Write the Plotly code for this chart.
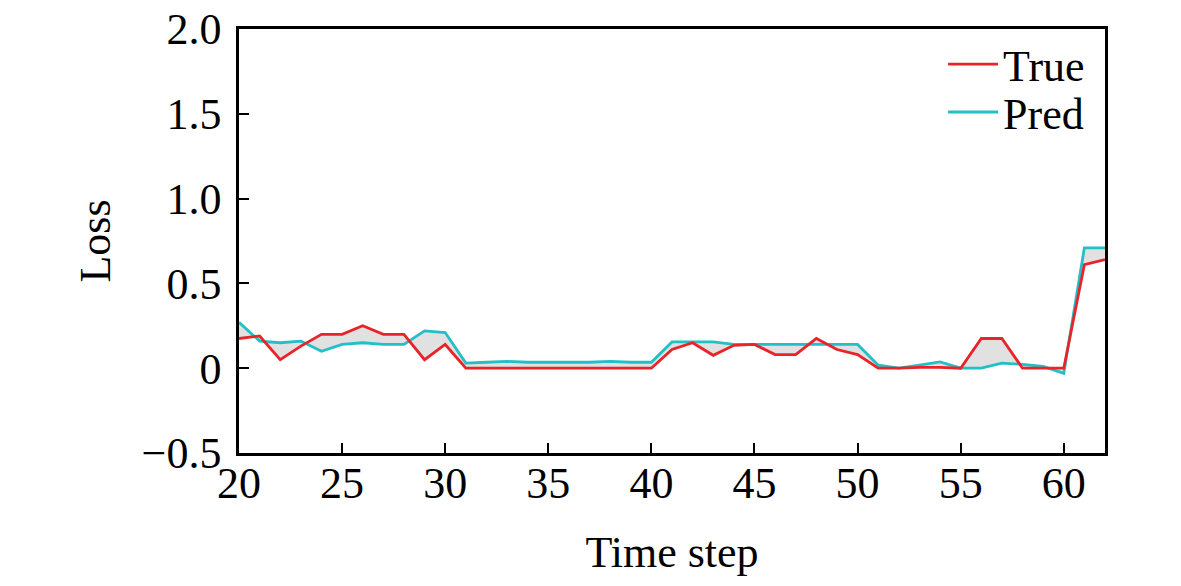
import plotly.graph_objects as go

time_steps = list(range(20, 63))
true_loss = [0.175, 0.19, 0.05, 0.13, 0.20, 0.20, 0.25, 0.20, 0.20, 0.05,
             0.14, 0.0, 0.0, 0.0, 0.0, 0.0, 0.0, 0.0, 0.0, 0.0,
             0.0, 0.11, 0.15, 0.076, 0.135, 0.14, 0.08, 0.08, 0.175, 0.11,
             0.08, 0.0, 0.0, 0.005, 0.005, 0.0, 0.175, 0.175, 0.0, 0.0,
             0.0, 0.61, 0.64]
pred_loss = [0.27, 0.16, 0.15, 0.16, 0.10, 0.14, 0.15, 0.14, 0.14, 0.22,
             0.21, 0.03, 0.035, 0.04, 0.035, 0.035, 0.035, 0.035, 0.04, 0.035,
             0.035, 0.155, 0.155, 0.155, 0.14, 0.14, 0.14, 0.14, 0.14, 0.14,
             0.14, 0.018, 0.0, 0.018, 0.037, 0.0, 0.0, 0.03, 0.023, 0.01,
             -0.03, 0.71, 0.71]

x_tickvals = [20, 25, 30, 35, 40, 45, 50, 55, 60]
y_tickvals = [-0.5, 0, 0.5, 1.0, 1.5, 2.0]
y_ticktext = ["\u22120.5", "0", "0.5", "1.0", "1.5", "2.0"]

RED = "#e8242a"
CYAN = "#22bfc6"
FONT = "Liberation Serif"
FS = 44

fig = go.Figure()
# band and lines (no legend)
fig.add_trace(go.Scatter(
    x=time_steps, y=pred_loss, mode="lines", showlegend=False,
    line=dict(color=CYAN, width=2.8),
))
fig.add_trace(go.Scatter(
    x=time_steps, y=true_loss, mode="lines", showlegend=False,
    line=dict(color=RED, width=2.8), fill="tonexty",
    fillcolor="rgba(205,205,205,0.6)",
))
# legend entries
fig.add_trace(go.Scatter(
    x=[None], y=[None], mode="lines", name="True",
    line=dict(color=RED, width=2.8), legend="legend",
))
fig.add_trace(go.Scatter(
    x=[None], y=[None], mode="lines", name="Pred",
    line=dict(color=CYAN, width=2.8), legend="legend2",
))

axis_common = dict(
    showline=True, linecolor="black", linewidth=2.5, mirror=True,
    ticks="inside", ticklen=10, tickwidth=2, tickcolor="black",
    showgrid=False, zeroline=False, ticklabeloverflow="allow",
    automargin=False,
    tickfont=dict(family=FONT, size=FS, color="black"),
)

fig.update_xaxes(
    range=[20, 62], tickvals=x_tickvals,
    title=dict(text="Time step", font=dict(family=FONT, size=FS, color="black"), standoff=30),
    ticklabelstandoff=-11,
    **axis_common,
)
fig.update_yaxes(
    range=[-0.5, 2.0], tickvals=y_tickvals, ticktext=y_ticktext,
    title=dict(text="Loss", font=dict(family=FONT, size=FS, color="black"), standoff=18),
    ticklabelstandoff=6,
    **axis_common,
)

legend_common = dict(
    xanchor="left", yanchor="top",
    bgcolor="rgba(0,0,0,0)", font=dict(family=FONT, size=FS, color="black"),
    itemwidth=50,
)

fig.update_layout(
    width=1181, height=586,
    margin=dict(l=239, r=76, t=29, b=133, autoexpand=False),
    plot_bgcolor="white", paper_bgcolor="white",
    font=dict(family=FONT, size=FS, color="black"),
    legend=dict(x=0.813, y=1.0, **legend_common),
    legend2=dict(x=0.813, y=0.887, **legend_common),
)

fig.write_html(
    "out.html",
    config={"displayModeBar": False},
    post_script="document.body.style.margin='0px';document.body.style.overflow='hidden';",
)
